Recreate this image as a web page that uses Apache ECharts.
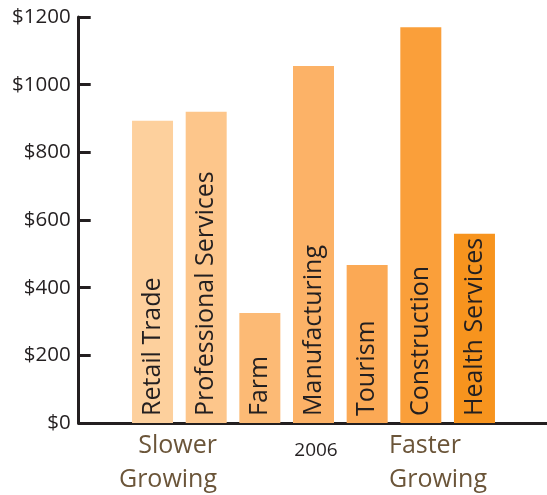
<!DOCTYPE html>
<html>
<head>
<meta charset="utf-8">
<script src="https://cdn.jsdelivr.net/npm/echarts@6/dist/echarts.min.js"></script>
<style>html,body{margin:0;padding:0;background:#fff;}#c{width:547px;height:495px;}</style>
</head>
<body>
<div id="c"></div>
<script>
const categories = ['Retail Trade','Professional Services','Farm','Manufacturing','Tourism','Construction','Health Services'];
const values = [893, 920, 325, 1055, 467, 1170, 559];
const barColors = ['#FDD09D','#FDC68B','#FCBA75','#FCB267','#FBA955','#FA9F3A','#F7941E'];
const yTicks = [0, 200, 400, 600, 800, 1000, 1200];
const yearLabel = '2006';
const leftNote = 'Slower\nGrowing';
const rightNote = 'Faster\nGrowing';

const FONT = '"Open Sans", sans-serif';
const DARK = '#231f20';
const BROWN = '#6B5539';

const chart = echarts.init(document.getElementById('c'), null, {renderer:'canvas'});
chart.setOption({
  animation:false,
  backgroundColor:'#fff',
  grid:[
    {left:125.7, right:45.7, top:17, bottom:72},
    {left:78.7, right:0, top:17, bottom:72}
  ],
  xAxis:[
    {gridIndex:0, type:'category', data:categories,
     axisLine:{show:false}, axisTick:{show:false}, axisLabel:{show:false},
     splitLine:{show:false}},
    {gridIndex:1, type:'value', min:0, max:1,
     axisLine:{show:true, onZero:false, lineStyle:{color:DARK, width:3}},
     axisTick:{show:false}, axisLabel:{show:false}, splitLine:{show:false}}
  ],
  yAxis:[
    {gridIndex:0, type:'value', min:yTicks[0], max:yTicks[yTicks.length-1], interval:200,
     offset:47,
     axisLine:{show:true, lineStyle:{color:DARK, width:3}},
     axisTick:{show:true, inside:true, length:12, lineStyle:{color:DARK, width:3}},
     axisLabel:{fontFamily:FONT, fontSize:20.5, color:DARK, margin:8,
       formatter:v => '$' + v},
     splitLine:{show:false}},
    {gridIndex:1, type:'value', show:false, min:0, max:1}
  ],
  series:[{
    type:'bar', xAxisIndex:0, yAxisIndex:0,
    barCategoryGap:'23.6%',
    data: values.map((v,i)=>({value:v, itemStyle:{color:barColors[i]}})),
    label:{show:true, position:'insideBottom', rotate:90, align:'left', verticalAlign:'middle',
      distance:8, offset:[-1,0], fontFamily:FONT, fontSize:25, color:DARK,
      formatter:p => p.name}
  }],
  graphic:[
    {type:'text', x:217, y:429, style:{text:leftNote, align:'right', verticalAlign:'top',
      font:'25px ' + FONT, lineHeight:34, fill:BROWN}},
    {type:'text', x:389, y:429, style:{text:rightNote, align:'left', verticalAlign:'top',
      font:'25px ' + FONT, lineHeight:34, fill:BROWN}},
    {type:'text', x:316, y:441, style:{text:yearLabel, align:'center', verticalAlign:'top',
      font:'19px ' + FONT, fill:DARK}}
  ]
});
</script>
</body>
</html>
